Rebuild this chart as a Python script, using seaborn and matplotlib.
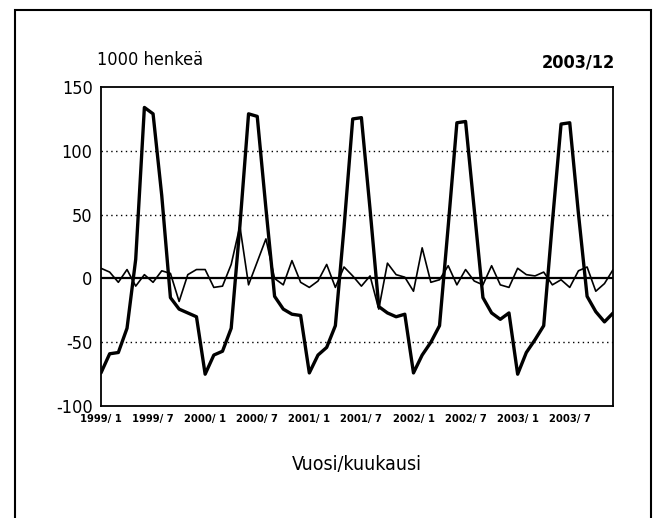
import numpy as np
import pandas as pd
import matplotlib
matplotlib.use("Agg")
import matplotlib.pyplot as plt
import seaborn as sns
from matplotlib.patches import Rectangle
from matplotlib.ticker import MultipleLocator, FixedLocator

years = [1999, 2000, 2001, 2002, 2003]

# suuri kausivaihtelu (1000 henkeä)
seasonal = [-74, -59, -58, -39, 15, 134, 129, 65, -15, -24, -27, -30,
            -75, -60, -57, -39, 41, 129, 127, 55, -14, -24, -28, -29,
            -74, -60, -54, -37, 40, 125, 126, 54, -22, -27, -30, -28,
            -74, -60, -50, -37, 41, 122, 123, 54, -15, -27, -32, -27,
            -75, -58, -48, -37, 44, 121, 122, 51, -14, -26, -34, -27]

# pieni vaihtelu
residual = [8, 5, -3, 7, -6, 3, -3, 6, 4, -18, 3, 7,
            7, -7, -6, 11, 41, -5, 13, 31, 0, -5, 14, -3,
            -7, -2, 11, -7, 9, 2, -6, 2, -24, 12, 3, 1,
            -10, 24, -3, -1, 10, -5, 7, -2, -5, 10, -5, -7,
            8, 3, 2, 5, -5, -1, -7, 6, 9, -10, -4, 7]

months = [f"{y}/{m:2d}" for y in years for m in range(1, 13)]
tick_labels = [f"{y}/{m:2d}" for y in years for m in (1, 7)]

df = pd.DataFrame({"kk": np.arange(len(months)), "kausi": seasonal, "jaama": residual})

sns.set_style("white")
plt.rcParams["font.family"] = ["DejaVu Sans"]
plt.rcParams["font.stretch"] = "condensed"
plt.rcParams["axes.unicode_minus"] = False
plt.rcParams["text.color"] = "black"
plt.rcParams["axes.labelcolor"] = "black"
plt.rcParams["xtick.color"] = "black"
plt.rcParams["ytick.color"] = "black"

fig = plt.figure(figsize=(6.6, 5.18), dpi=100)
ax = fig.add_axes([0.153, 0.216, 0.776, 0.616])

ax.axhline(0, color="black", lw=1.6, zorder=1)
for yv in (100, 50, -50):
    ax.axhline(yv, color="black", lw=1.0, ls=(0, (1, 2.5)), zorder=1)

sns.lineplot(data=df, x="kk", y="kausi", ax=ax, color="black", lw=2.4, zorder=3)
sns.lineplot(data=df, x="kk", y="jaama", ax=ax, color="black", lw=1.2, zorder=2)

ax.set_xlim(0, len(months) - 1)
ax.set_ylim(-100, 150)
ax.xaxis.set_major_locator(FixedLocator(np.arange(0, len(months), 6)))
ax.xaxis.set_minor_locator(MultipleLocator(1))
ax.set_xticklabels(tick_labels, fontsize=8, fontweight="bold")
ax.yaxis.set_major_locator(MultipleLocator(50))
ax.yaxis.set_minor_locator(MultipleLocator(25))
ax.tick_params(axis="y", which="major", labelsize=13, direction="in", length=5, width=1, pad=6)
ax.tick_params(axis="y", which="minor", direction="in", length=4, width=1)
ax.tick_params(axis="x", which="major", direction="in", length=7, width=1, pad=6)
ax.tick_params(axis="x", which="minor", direction="in", length=4, width=1)
ax.set_xlabel("Vuosi/kuukausi", fontsize=14, labelpad=22)
ax.set_ylabel("")
for s in ax.spines.values():
    s.set_color("black")
    s.set_linewidth(1.3)

fig.text(0.147, 0.885, "1000 henkeä", fontsize=13, ha="left", va="center")
fig.text(0.932, 0.88, "2003/12", fontsize=13, fontweight="bold", ha="right", va="center")

fig.patches.append(Rectangle((15 / 660, -0.05), 636 / 660, 1.03, transform=fig.transFigure,
                             fill=False, edgecolor="black", lw=1.5))

fig.savefig("out.png", dpi=100)
